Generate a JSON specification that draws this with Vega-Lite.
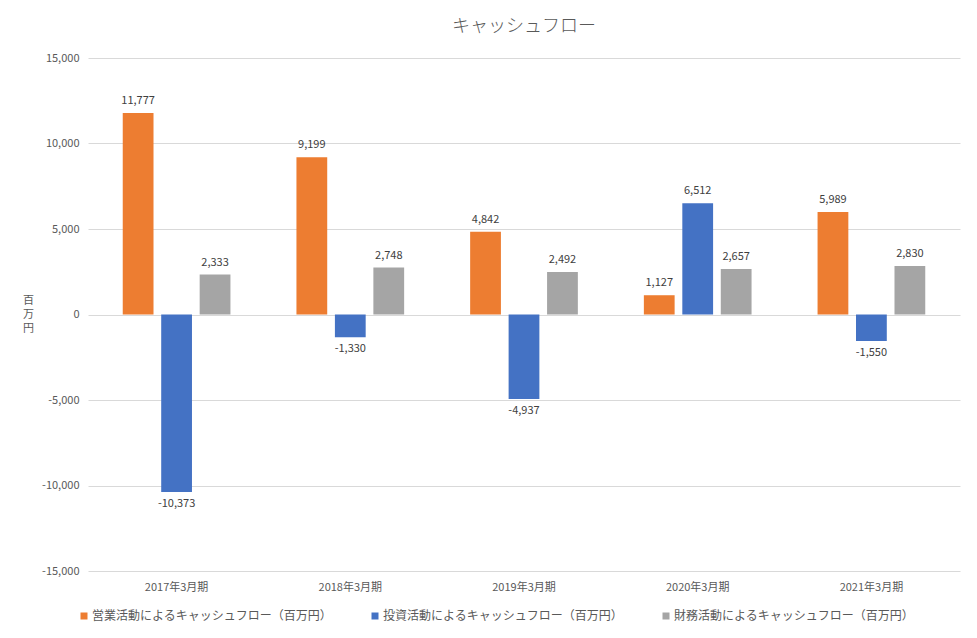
{
  "$schema": "https://vega.github.io/schema/vega-lite/v6.json",
  "autosize": {"type": "none"},
  "width": 872,
  "height": 513,
  "padding": {"left": 88, "top": 58, "right": 17, "bottom": 67},
  "background": "white",
  "title": {
    "text": "キャッシュフロー",
    "anchor": "middle",
    "font": "Noto Sans CJK JP",
    "fontSize": 18,
    "fontWeight": 300,
    "color": "#595959",
    "offset": 16
  },
  "data": {
    "values": [
      {"period": "2017年3月期", "series": "営業活動によるキャッシュフロー（百万円）", "value": 11777},
      {"period": "2017年3月期", "series": "投資活動によるキャッシュフロー（百万円）", "value": -10373},
      {"period": "2017年3月期", "series": "財務活動によるキャッシュフロー（百万円）", "value": 2333},
      {"period": "2018年3月期", "series": "営業活動によるキャッシュフロー（百万円）", "value": 9199},
      {"period": "2018年3月期", "series": "投資活動によるキャッシュフロー（百万円）", "value": -1330},
      {"period": "2018年3月期", "series": "財務活動によるキャッシュフロー（百万円）", "value": 2748},
      {"period": "2019年3月期", "series": "営業活動によるキャッシュフロー（百万円）", "value": 4842},
      {"period": "2019年3月期", "series": "投資活動によるキャッシュフロー（百万円）", "value": -4937},
      {"period": "2019年3月期", "series": "財務活動によるキャッシュフロー（百万円）", "value": 2492},
      {"period": "2020年3月期", "series": "営業活動によるキャッシュフロー（百万円）", "value": 1127},
      {"period": "2020年3月期", "series": "投資活動によるキャッシュフロー（百万円）", "value": 6512},
      {"period": "2020年3月期", "series": "財務活動によるキャッシュフロー（百万円）", "value": 2657},
      {"period": "2021年3月期", "series": "営業活動によるキャッシュフロー（百万円）", "value": 5989},
      {"period": "2021年3月期", "series": "投資活動によるキャッシュフロー（百万円）", "value": -1550},
      {"period": "2021年3月期", "series": "財務活動によるキャッシュフロー（百万円）", "value": 2830}
    ]
  },
  "encoding": {
    "x": {
      "field": "period",
      "type": "nominal",
      "sort": null,
      "scale": {"paddingInner": 0.38, "paddingOuter": 0.2},
      "axis": {
        "title": null,
        "labelAngle": 0,
        "domain": false,
        "ticks": false,
        "labelPadding": 10,
        "labelFontSize": 11,
        "labelColor": "#595959",
        "labelFont": "Noto Sans CJK JP"
      }
    },
    "xOffset": {
      "field": "series",
      "type": "nominal",
      "sort": ["営業活動によるキャッシュフロー（百万円）", "投資活動によるキャッシュフロー（百万円）", "財務活動によるキャッシュフロー（百万円）"],
      "scale": {"paddingInner": 0.2, "paddingOuter": 0}
    },
    "y": {
      "field": "value",
      "type": "quantitative",
      "scale": {"domain": [-15000, 15000], "nice": false},
      "axis": {
        "values": [-15000, -10000, -5000, 0, 5000, 10000, 15000],
        "labelExpr": "format(datum.value, ',')",
        "title": ["百", "万", "円"],
        "titleAngle": 0,
        "titleFontSize": 11,
        "titleFontWeight": "normal",
        "titleColor": "#595959",
        "titleFont": "Noto Sans CJK JP",
        "titleLineHeight": 14,
        "titleBaseline": "middle",
        "titleX": -60,
        "titleY": 242,
        "titleAlign": "center",
        "domain": false,
        "ticks": false,
        "labelPadding": 9,
        "labelFontSize": 11,
        "labelColor": "#595959",
        "labelFont": "Noto Sans CJK JP",
        "gridColor": "#d9d9d9",
        "gridWidth": 1
      }
    }
  },
  "layer": [
    {
      "mark": {"type": "bar"},
      "encoding": {
        "color": {
          "field": "series",
          "type": "nominal",
          "scale": {
            "domain": ["営業活動によるキャッシュフロー（百万円）", "投資活動によるキャッシュフロー（百万円）", "財務活動によるキャッシュフロー（百万円）"],
            "range": ["#ED7D31", "#4472C4", "#A5A5A5"]
          },
          "legend": {
            "title": null,
            "orient": "none",
            "direction": "horizontal",
            "legendX": -10,
            "legendY": 552,
            "symbolType": "square",
            "symbolSize": 49,
            "symbolStrokeWidth": 0,
            "symbolOpacity": 1,
            "labelFontSize": 12,
            "labelColor": "#595959",
            "labelFont": "Noto Sans CJK JP",
            "labelLimit": 320,
            "labelOffset": 2,
            "columnPadding": 36
          }
        }
      }
    },
    {
      "transform": [{"filter": "datum.value >= 0"}],
      "mark": {"type": "text", "baseline": "bottom", "dy": -7, "fontSize": 11, "color": "#404040", "font": "Noto Sans CJK JP"},
      "encoding": {"text": {"field": "value", "type": "quantitative", "format": ","}}
    },
    {
      "transform": [{"filter": "datum.value < 0"}],
      "mark": {"type": "text", "baseline": "top", "dy": 6, "fontSize": 11, "color": "#404040", "font": "Noto Sans CJK JP"},
      "encoding": {"text": {"field": "value", "type": "quantitative", "format": ","}}
    }
  ],
  "config": {
    "view": {"stroke": null},
    "locale": {
      "number": {"decimal": ".", "thousands": ",", "grouping": [3], "currency": ["", ""], "minus": "-"}
    }
  }
}
